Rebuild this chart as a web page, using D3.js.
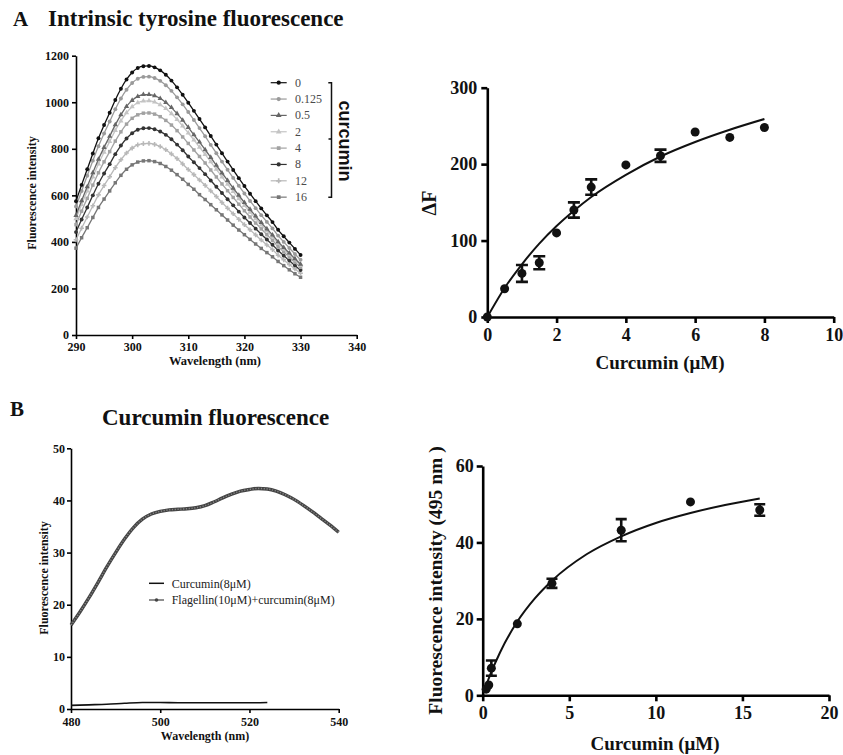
<!DOCTYPE html>
<html>
<head>
<meta charset="utf-8">
<script src="https://cdn.jsdelivr.net/npm/d3@7"></script>
<style>
  body { margin: 0; background: #fff; }
</style>
</head>
<body>
<script>
const serif = '"Liberation Serif", "Times New Roman", serif';

// A, left: tyrosine emission spectra (one value per nm, 290-330)
const wavelengthsA = d3.range(290, 331);
const curcuminLevels = ['0', '0.125', '0.5', '2', '4', '8', '12', '16'];
const spectrum0 = [575, 645, 712, 780, 845, 902, 955, 1010, 1058, 1098, 1128, 1147, 1155, 1156, 1150, 1137, 1118, 1093, 1064, 1032, 998,
  963, 928, 892, 855, 818, 781, 745, 709, 674, 640, 607, 575, 544, 514, 485, 452, 424, 397, 370, 344];
const spectrum0125 = [552, 619, 684, 749, 811, 866, 917, 970, 1016, 1054, 1083, 1101, 1109, 1110, 1104, 1092, 1073, 1049, 1021, 991, 958,
  924, 889, 854, 817, 781, 745, 710, 675, 641, 608, 576, 545, 515, 486, 458, 427, 400, 374, 348, 323];
const spectrum05 = [514, 577, 637, 697, 755, 806, 854, 903, 946, 982, 1008, 1025, 1033, 1033, 1028, 1016, 999, 977, 951, 923, 892,
  860, 829, 796, 763, 729, 696, 664, 631, 600, 569, 540, 511, 483, 456, 430, 401, 376, 352, 328, 304];
const spectrum2 = [500, 561, 619, 679, 735, 785, 831, 879, 920, 955, 981, 998, 1005, 1006, 1001, 989, 973, 951, 926, 898, 868,
  838, 807, 776, 744, 712, 679, 648, 617, 586, 557, 528, 500, 473, 447, 422, 393, 369, 345, 322, 299];
const spectrum4 = [474, 532, 587, 644, 697, 744, 788, 833, 873, 906, 931, 946, 953, 954, 949, 938, 922, 902, 878, 851, 823,
  795, 767, 739, 709, 679, 649, 620, 591, 562, 534, 507, 481, 456, 431, 407, 380, 357, 335, 312, 291];
const spectrum8 = [442, 496, 548, 600, 650, 694, 734, 777, 814, 844, 867, 882, 888, 889, 884, 874, 860, 841, 818, 794, 767,
  742, 717, 691, 664, 637, 610, 583, 557, 530, 505, 481, 457, 433, 410, 388, 363, 341, 320, 299, 279];
const spectrum12 = [409, 459, 507, 555, 602, 642, 680, 719, 753, 782, 803, 817, 822, 823, 819, 810, 796, 778, 758, 735, 711,
  689, 666, 643, 619, 595, 569, 545, 521, 497, 474, 452, 430, 408, 387, 367, 343, 323, 303, 284, 265];
const spectrum16 = [373, 418, 461, 505, 548, 584, 619, 654, 686, 712, 731, 743, 748, 749, 745, 737, 724, 708, 689, 669, 647,
  626, 603, 582, 560, 538, 516, 494, 472, 451, 431, 411, 391, 372, 354, 336, 316, 298, 280, 263, 248];
const spectraA = [spectrum0, spectrum0125, spectrum05, spectrum2, spectrum4, spectrum8, spectrum12, spectrum16];
const seriesColors = ['#111', '#9a9a9a', '#666', '#c4c4c4', '#a2a2a2', '#333', '#b8b8b8', '#777'];
const seriesSymbols = [d3.symbolCircle, d3.symbolCircle, d3.symbolTriangle, d3.symbolTriangle,
  d3.symbolSquare, d3.symbolCircle, d3.symbolCross, d3.symbolSquare];

// A, right: quenching vs curcumin
const concA = [0, 0.5, 1, 1.5, 2, 2.5, 3, 4, 5, 6, 7, 8];
const deltaF = [0, 37, 57, 71, 110, 140, 170, 199, 211, 242, 235, 248];
const deltaFErr = [0, 0, 11, 8.5, 0, 10, 10, 0, 8, 0, 0, 0];
const fitAx = [0, 0.5, 1, 1.5, 2, 2.5, 3, 4, 5, 6, 7, 8];
const fitAy = [0, 38, 69, 96, 119, 139, 157, 186, 210, 229, 245, 259];

// B, left: curcumin emission spectra
const wavelengthsB = d3.range(480, 541, 2);
const flagellinCurcumin = [16.1, 18.6, 21.3, 24.2, 27.2, 30.0, 32.6, 34.8, 36.4, 37.4, 37.9, 38.2, 38.3, 38.4, 38.6, 39.0,
  39.7, 40.5, 41.2, 41.8, 42.1, 42.3, 42.2, 41.8, 41.1, 40.2, 39.1, 37.9, 36.6, 35.3, 33.9];
const wavelengthsCur = [480, 484, 488, 492, 496, 500, 504, 508, 512, 516, 520, 524];
const curcuminAlone = [0.7, 0.8, 0.9, 1.1, 1.25, 1.25, 1.2, 1.2, 1.2, 1.2, 1.2, 1.25];

// B, right: fluorescence at 495 nm vs curcumin
const concB = [0.2, 0.35, 0.5, 2, 4, 8, 12, 16];
const fluor495 = [1.6, 2.7, 7.1, 18.7, 29.3, 43.2, 50.6, 48.5];
const fluor495Err = [0, 0, 2, 0, 1.2, 2.9, 0, 1.5];
const fitBx = [0.2, 0.5, 1, 2, 3, 4, 6, 8, 10, 12, 14, 16];
const fitBy = [2.6, 6.1, 11.2, 19.3, 25.3, 30.0, 36.9, 41.6, 45.1, 47.7, 49.8, 51.5];

const svg = d3.select('body').append('svg')
  .attr('width', 843)
  .attr('height', 755)
  .style('background', '#fff');

function drawAxes(g, x, y, o) {
  const xa = g.append('g')
    .attr('transform', 'translate(0,' + y.range()[0] + ')')
    .call(d3.axisBottom(x).tickValues(o.xTicks).tickFormat(d3.format('d'))
      .tickSize(o.tick).tickSizeOuter(0).tickPadding(o.padX));
  const ya = g.append('g')
    .attr('transform', 'translate(' + x.range()[0] + ',0)')
    .call(d3.axisLeft(y).tickValues(o.yTicks).tickFormat(d3.format('d'))
      .tickSize(o.tick).tickSizeOuter(0).tickPadding(o.padY));
  [xa, ya].forEach((a) => {
    a.select('.domain').attr('stroke', '#000').attr('stroke-width', o.width);
    a.selectAll('.tick line').attr('stroke', '#000').attr('stroke-width', o.width);
    a.selectAll('.tick text')
      .attr('font-family', serif)
      .attr('font-weight', 'bold')
      .attr('font-size', o.font)
      .attr('fill', '#111');
  });
}

function label(g, text, x, y, size, opts) {
  opts = opts || {};
  return g.append('text')
    .attr('transform', 'translate(' + x + ',' + y + ')' + (opts.rotate ? ' rotate(' + opts.rotate + ')' : ''))
    .attr('text-anchor', opts.anchor || 'middle')
    .attr('font-family', opts.family || serif)
    .attr('font-weight', opts.weight || 'bold')
    .attr('font-size', size)
    .attr('fill', opts.fill || '#111')
    .text(text);
}

// ---------- headings ----------
label(svg, 'A', 13, 26, 21, {anchor: 'start'});
label(svg, 'Intrinsic tyrosine fluorescence', 48, 26, 23, {anchor: 'start'});
label(svg, 'B', 10, 416, 21, {anchor: 'start'});
label(svg, 'Curcumin fluorescence', 102, 425, 23, {anchor: 'start'});

// ---------- A left ----------
const xA1 = d3.scaleLinear().domain([290, 340]).range([76, 356.7]);
const yA1 = d3.scaleLinear().domain([0, 1200]).range([335, 55.7]);
const gA1 = svg.append('g');
drawAxes(gA1, xA1, yA1, {
  xTicks: [290, 300, 310, 320, 330, 340], yTicks: [0, 200, 400, 600, 800, 1000, 1200],
  tick: 4, padX: 3, padY: 3, width: 1.6, font: 12
});
label(gA1, 'Fluorescence intensity', 36, 193, 12, {rotate: -90});
label(gA1, 'Wavelength (nm)', 215, 365, 12.5);

const lineA1 = d3.line().x((d) => xA1(d[0])).y((d) => yA1(d[1])).curve(d3.curveMonotoneX);
for (let i = spectraA.length - 1; i >= 0; i--) {
  const pts = wavelengthsA.map((w, j) => [w, spectraA[i][j]]);
  gA1.append('path').datum(pts)
    .attr('d', lineA1)
    .attr('fill', 'none')
    .attr('stroke', seriesColors[i])
    .attr('stroke-width', 1.3);
  gA1.selectAll(null).data(pts).enter().append('path')
    .attr('d', d3.symbol(seriesSymbols[i], 12))
    .attr('transform', (d) => 'translate(' + xA1(d[0]) + ',' + yA1(d[1]) + ')')
    .attr('fill', seriesColors[i]);
}

// legend
const legA = gA1.append('g');
curcuminLevels.forEach((c, i) => {
  const ly = 82.7 + i * 16.35;
  legA.append('line')
    .attr('x1', 270.7).attr('x2', 286.7).attr('y1', ly).attr('y2', ly)
    .attr('stroke', seriesColors[i]).attr('stroke-width', 1.2);
  legA.append('path')
    .attr('d', d3.symbol(seriesSymbols[i], 14))
    .attr('transform', 'translate(278.7,' + ly + ')')
    .attr('fill', seriesColors[i]);
  label(legA, c, 295, ly + 4, 12, {anchor: 'start', weight: 'normal', fill: '#4a4a4a'});
});
legA.append('path')
  .attr('d', 'M328.3,82.7H331.5V197.3H328.3M331.5,139H328.5')
  .attr('fill', 'none').attr('stroke', '#111').attr('stroke-width', 1.5);
label(legA, 'curcumin', 338.5, 141, 18, {rotate: 90, family: '"Liberation Sans", Arial, sans-serif'});

// ---------- A right ----------
const xA2 = d3.scaleLinear().domain([0, 10]).range([487.3, 833.7]);
const yA2 = d3.scaleLinear().domain([0, 300]).range([317, 87.7]);
const gA2 = svg.append('g');
drawAxes(gA2, xA2, yA2, {
  xTicks: [0, 2, 4, 6, 8, 10], yTicks: [0, 100, 200, 300],
  tick: 6, padX: 5, padY: 4, width: 2.6, font: 18
});
label(gA2, 'ΔF', 436, 203, 20, {rotate: -90});
label(gA2, 'Curcumin (μM)', 660, 369, 19);

gA2.append('path')
  .datum(fitAx.map((x, i) => [x, fitAy[i]]))
  .attr('d', d3.line().x((d) => xA2(d[0])).y((d) => yA2(d[1])).curve(d3.curveMonotoneX))
  .attr('fill', 'none').attr('stroke', '#111').attr('stroke-width', 2);

const ptsA2 = concA.map((c, i) => ({x: c, y: deltaF[i], e: deltaFErr[i]}));
gA2.selectAll('.err').data(ptsA2.filter((d) => d.e > 0)).enter().append('path')
  .attr('d', (d) => {
    const cx = xA2(d.x), t = yA2(d.y + d.e), b = yA2(d.y - d.e);
    return 'M' + (cx - 6) + ',' + t + 'H' + (cx + 6) + 'M' + cx + ',' + t + 'V' + b + 'M' + (cx - 6) + ',' + b + 'H' + (cx + 6);
  })
  .attr('fill', 'none').attr('stroke', '#111').attr('stroke-width', 2.6);
gA2.selectAll('circle').data(ptsA2).enter().append('circle')
  .attr('cx', (d) => xA2(d.x))
  .attr('cy', (d) => yA2(d.y))
  .attr('r', 4.5)
  .attr('fill', '#111');

// ---------- B left ----------
const xB1 = d3.scaleLinear().domain([480, 540]).range([71, 338.7]);
const yB1 = d3.scaleLinear().domain([0, 50]).range([709, 448.3]);
const gB1 = svg.append('g');
drawAxes(gB1, xB1, yB1, {
  xTicks: [480, 500, 520, 540], yTicks: [0, 10, 20, 30, 40, 50],
  tick: 4, padX: 4, padY: 2, width: 1.6, font: 12
});
label(gB1, 'Fluorescence intensity', 47.5, 578, 12, {rotate: -90});
label(gB1, 'Wavelength (nm)', 205, 740, 12);

const lineB1 = d3.line().x((d) => xB1(d[0])).y((d) => yB1(d[1])).curve(d3.curveMonotoneX);
gB1.append('path')
  .datum(wavelengthsCur.map((w, i) => [w, curcuminAlone[i]]))
  .attr('d', lineB1)
  .attr('fill', 'none').attr('stroke', '#111').attr('stroke-width', 1.6);
const flPts = wavelengthsB.map((w, i) => [w, flagellinCurcumin[i]]);
gB1.append('path')
  .datum(flPts)
  .attr('d', lineB1)
  .attr('fill', 'none').attr('stroke', '#444').attr('stroke-width', 3.4);
gB1.append('path')
  .datum(flPts)
  .attr('d', lineB1)
  .attr('fill', 'none').attr('stroke', '#888').attr('stroke-width', 1.4)
  .attr('stroke-dasharray', '1.2,1.6');

// legend
gB1.append('line').attr('x1', 149).attr('x2', 164).attr('y1', 583.3).attr('y2', 583.3)
  .attr('stroke', '#111').attr('stroke-width', 1.5);
gB1.append('line').attr('x1', 149).attr('x2', 164).attr('y1', 600).attr('y2', 600)
  .attr('stroke', '#444').attr('stroke-width', 1.2);
gB1.append('circle').attr('cx', 156.5).attr('cy', 600).attr('r', 1.8).attr('fill', '#444');
label(gB1, 'Curcumin(8μM)', 171.7, 587.5, 12, {anchor: 'start', weight: 'normal', fill: '#222'});
label(gB1, 'Flagellin(10μM)+curcumin(8μM)', 171.7, 604, 12, {anchor: 'start', weight: 'normal', fill: '#222'});

// ---------- B right ----------
const xB2 = d3.scaleLinear().domain([0, 20]).range([482.7, 829]);
const yB2 = d3.scaleLinear().domain([0, 60]).range([695.3, 466]);
const gB2 = svg.append('g');
drawAxes(gB2, xB2, yB2, {
  xTicks: [0, 5, 10, 15, 20], yTicks: [0, 20, 40, 60],
  tick: 6, padX: 5, padY: 3, width: 2.6, font: 18
});
label(gB2, 'Fluorescence intensity (495 nm )', 442, 580.5, 19.5, {rotate: -90});
label(gB2, 'Curcumin (μM)', 655, 750, 19);

gB2.append('path')
  .datum(fitBx.map((x, i) => [x, fitBy[i]]))
  .attr('d', d3.line().x((d) => xB2(d[0])).y((d) => yB2(d[1])).curve(d3.curveMonotoneX))
  .attr('fill', 'none').attr('stroke', '#111').attr('stroke-width', 2);

const ptsB2 = concB.map((c, i) => ({x: c, y: fluor495[i], e: fluor495Err[i]}));
gB2.selectAll('.err').data(ptsB2.filter((d) => d.e > 0)).enter().append('path')
  .attr('d', (d) => {
    const cx = xB2(d.x), t = yB2(d.y + d.e), b = yB2(d.y - d.e);
    return 'M' + (cx - 5.5) + ',' + t + 'H' + (cx + 5.5) + 'M' + cx + ',' + t + 'V' + b + 'M' + (cx - 5.5) + ',' + b + 'H' + (cx + 5.5);
  })
  .attr('fill', 'none').attr('stroke', '#111').attr('stroke-width', 2.6);
gB2.selectAll('circle').data(ptsB2).enter().append('circle')
  .attr('cx', (d) => xB2(d.x))
  .attr('cy', (d) => yB2(d.y))
  .attr('r', 4.5)
  .attr('fill', '#111');
</script>
</body>
</html>
